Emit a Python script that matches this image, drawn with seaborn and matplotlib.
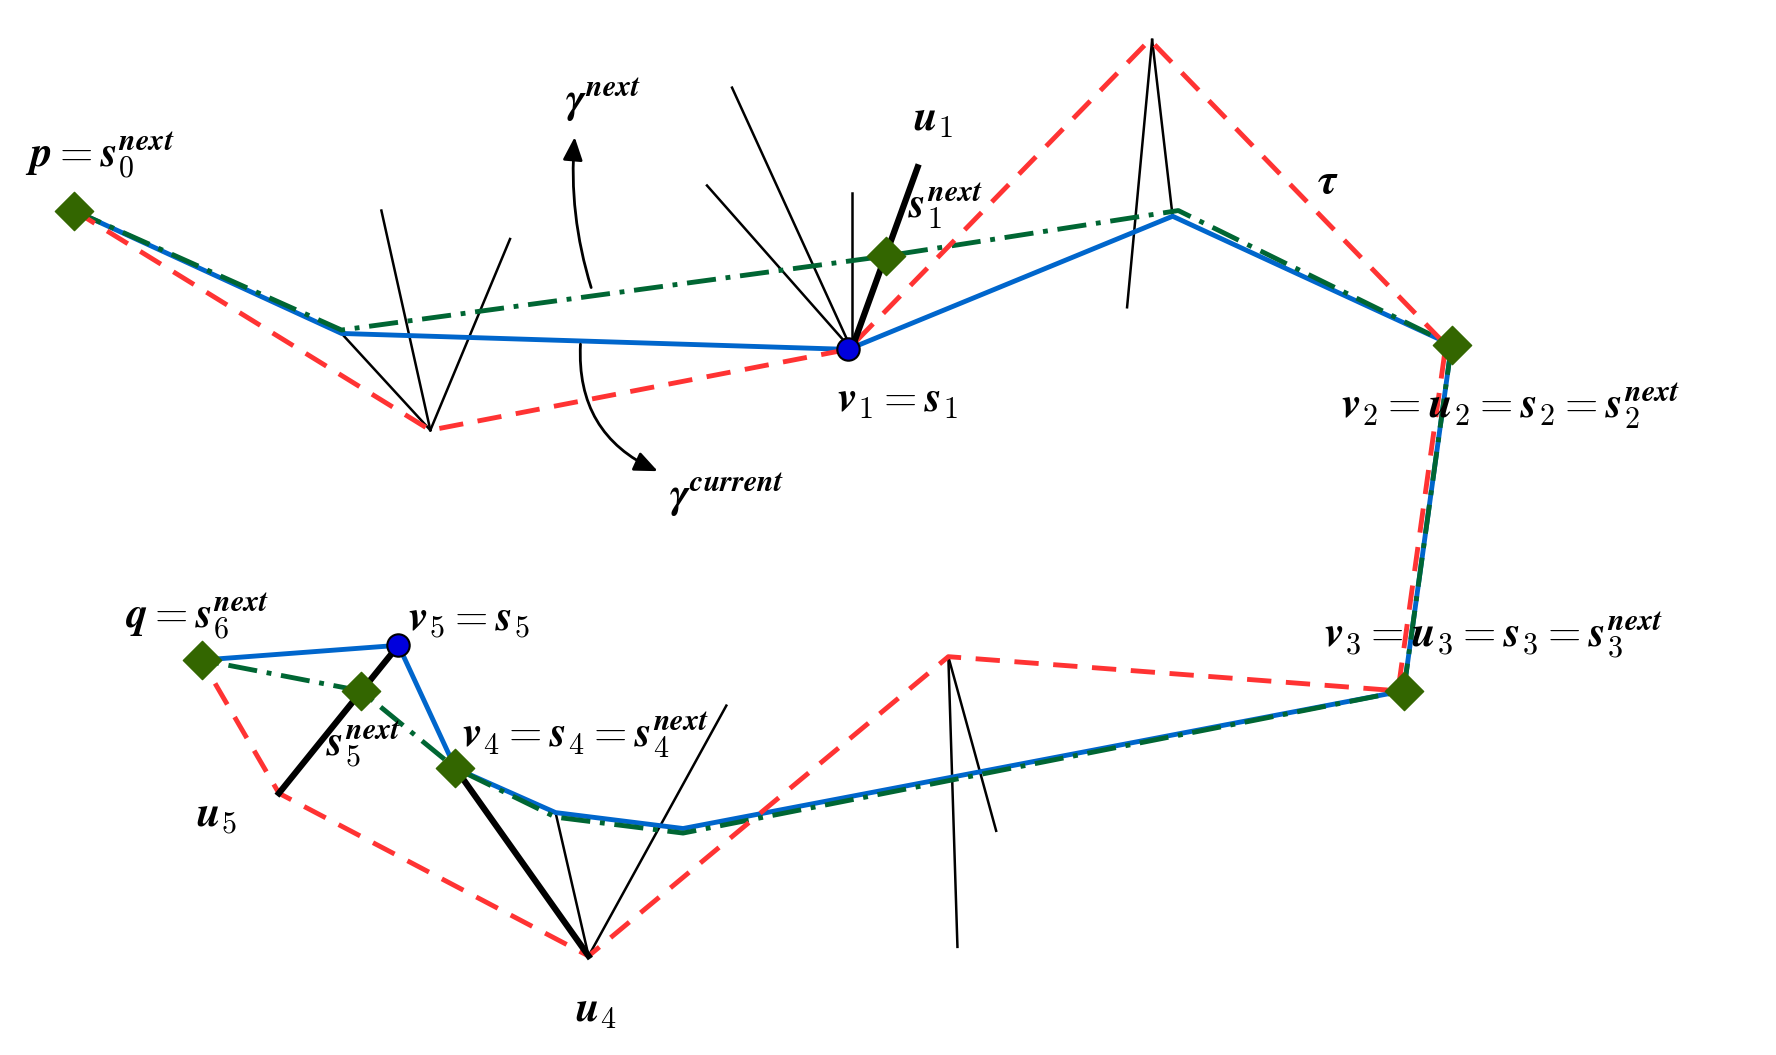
import matplotlib
matplotlib.use("Agg")
import matplotlib.pyplot as plt
import seaborn as sns
from matplotlib.patches import FancyArrowPatch

plt.rcParams["mathtext.fontset"] = "cm"

# path vertices (picture coordinates, y downwards)
cur_x = [65, 300, 745, 1030, 1275, 1233, 600, 488, 400, 350, 177]
cur_y = [185, 293, 307, 190, 303, 607, 728, 714, 675, 567, 580]
nxt_x = [65, 300, 778, 1035, 1275, 1233, 600, 488, 400, 317, 177]
nxt_y = [185, 290, 225, 185, 303, 607, 732, 718, 675, 607, 580]
tau_x = [65, 378, 745, 1010, 1270, 1228, 833, 517, 245, 177]
tau_y = [185, 378, 307, 35, 303, 607, 577, 840, 697, 580]

thin_segs = [((378, 378), (335, 185)), ((378, 378), (448, 210)), ((378, 378), (300, 293)),
             ((748, 307), (643, 77)), ((748, 307), (621, 163)), ((748, 307), (748, 170)),
             ((1012, 35), (990, 270)), ((1012, 35), (1030, 190)),
             ((833, 577), (875, 730)), ((833, 577), (841, 832)),
             ((517, 840), (638, 620)), ((517, 840), (488, 714))]
thick_segs = [((748, 307), (806, 147)), ((517, 840), (400, 675)), ((350, 567), (245, 697))]

dia_x = [65, 778, 1275, 1233, 400, 317, 177]
dia_y = [185, 225, 303, 607, 675, 607, 580]
circ_x = [745, 350]
circ_y = [307, 567]

labels = [
    (22, 148, r"$\mathbfit{p} = \mathbfit{s}_0^{\mathbfit{next}}$"),
    (496, 100, r"$\mathbfit{\gamma}^{\mathbfit{next}}$"),
    (802, 115, r"$\mathbfit{u}_1$"),
    (798, 192, r"$\mathbfit{s}_1^{\mathbfit{next}}$"),
    (1157, 170, r"$\mathbfit{\tau}$"),
    (735, 362, r"$\mathbfit{v}_1 = \mathbfit{s}_1$"),
    (1178, 368, r"$\mathbfit{v}_2 = \mathbfit{u}_2 = \mathbfit{s}_2 = \mathbfit{s}_2^{\mathbfit{next}}$"),
    (588, 447, r"$\mathbfit{\gamma}^{\mathbfit{current}}$"),
    (110, 553, r"$\mathbfit{q} = \mathbfit{s}_6^{\mathbfit{next}}$"),
    (358, 555, r"$\mathbfit{v}_5 = \mathbfit{s}_5$"),
    (1163, 570, r"$\mathbfit{v}_3 = \mathbfit{u}_3 = \mathbfit{s}_3 = \mathbfit{s}_3^{\mathbfit{next}}$"),
    (406, 657, r"$\mathbfit{v}_4 = \mathbfit{s}_4 = \mathbfit{s}_4^{\mathbfit{next}}$"),
    (286, 665, r"$\mathbfit{s}_5^{\mathbfit{next}}$"),
    (172, 727, r"$\mathbfit{u}_5$"),
    (505, 898, r"$\mathbfit{u}_4$"),
]

fig, ax = plt.subplots(figsize=(17.76, 10.55), dpi=100)
fig.subplots_adjust(0, 0, 1, 1)

for (a, b) in thin_segs:
    ax.plot([a[0], b[0]], [a[1], b[1]], color="black", lw=1.8, zorder=2)
for (a, b) in thick_segs:
    ax.plot([a[0], b[0]], [a[1], b[1]], color="black", lw=4.5, zorder=4)

sns.lineplot(x=cur_x, y=cur_y, sort=False, ax=ax, color="#0066cc", lw=3.5, zorder=3)
sns.lineplot(x=nxt_x, y=nxt_y, sort=False, ax=ax, color="#006633", lw=3.5,
             linestyle=(0, (6, 2, 1, 2)), zorder=3.2)
sns.lineplot(x=tau_x, y=tau_y, sort=False, ax=ax, color="#ff3333", lw=3.5,
             linestyle=(0, (5, 3)), zorder=3.4)

ax.scatter(dia_x, dia_y, marker="D", s=380, color="#336600", zorder=5)
ax.scatter(circ_x, circ_y, marker="o", s=260, color="#0000dd", edgecolor="black", lw=1.5, zorder=5)

ax.add_patch(FancyArrowPatch((520, 255), (505, 118), connectionstyle="arc3,rad=-0.1",
                             arrowstyle="-|>,head_length=14,head_width=6", color="black", lw=2, zorder=6))
ax.add_patch(FancyArrowPatch((510, 300), (580, 415), connectionstyle="arc3,rad=0.35",
                             arrowstyle="-|>,head_length=14,head_width=6", color="black", lw=2, zorder=6))

for x, y, t in labels:
    ax.text(x, y, t, fontsize=31, ha="left", va="baseline", zorder=7)

ax.set_xlim(0, 1560)
ax.set_ylim(927, 0)
ax.axis("off")
fig.savefig("out.png", dpi=100)
